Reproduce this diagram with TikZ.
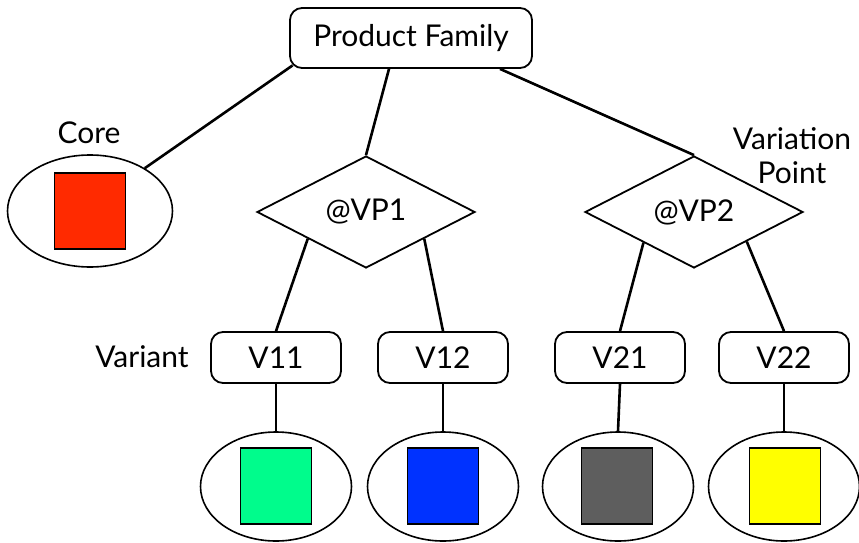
\documentclass[tikz,border=0pt]{standalone}
\usepackage{fontspec}
\setmainfont{Lato}
\usetikzlibrary{shapes.geometric,calc}

\definecolor{coreRed}{RGB}{255,42,0}
\definecolor{partGreen}{RGB}{0,252,140}
\definecolor{partBlue}{RGB}{0,50,255}
\definecolor{partGrey}{RGB}{94,94,94}
\definecolor{partYellow}{RGB}{255,255,0}

\begin{document}
\begin{tikzpicture}[x=1pt,y=-1pt,
  every node/.style={font=\fontsize{30}{35}\selectfont},
  famblock/.style={draw, line width=1.8pt, rounded corners=12pt,
    minimum width=242pt, minimum height=60pt, inner sep=0pt},
  varbox/.style={draw, line width=1.8pt, rounded corners=12pt,
    minimum width=130pt, minimum height=51pt, inner sep=0pt},
  vpoint/.style={draw, diamond, line width=1.8pt,
    minimum width=218pt, minimum height=112pt, inner sep=0pt},
  holder/.style={draw, ellipse, line width=1.6pt,
    minimum width=151pt, minimum height=109pt, inner sep=0pt},
  part/.style={draw, line width=1.6pt,
    minimum width=71pt, minimum height=76pt, inner sep=0pt},
  link/.style={line width=2.6pt},
  caption/.style={inner sep=0pt, align=center}
]
\useasboundingbox (0,0) rectangle (859,543);

% root of the family tree
\node[famblock] (pf) at (411,38) {Product Family};

% core asset
\node[holder, minimum width=165pt, minimum height=112pt] (core) at (90,211) {};
\node[part, fill=coreRed] (coresq) at (90,211) {};
\node[caption, anchor=base] (corelbl) at (89,143) {Core};

% variation points
\node[vpoint] (vp1) at (366,212) {@VP1};
\node[vpoint] (vp2) at (694,212) {@VP2};
\node[caption] (vplbl) at (792,156) {Variation\\[-1pt]Point};

% variants
\node[varbox] (v11) at (276,357.5) {V11};
\node[varbox] (v12) at (443,357.5) {V12};
\node[varbox] (v21) at (620,357.5) {V21};
\node[varbox] (v22) at (784,357.5) {V22};
\node[caption, anchor=base] (varlbl) at (142,367) {Variant};

% realised parts
\node[holder] (e11) at (276,486.5) {};
\node[holder] (e12) at (443,486.5) {};
\node[holder] (e21) at (618,486.5) {};
\node[holder] (e22) at (784,486.5) {};
\node[part, fill=partGreen]  (p11) at (276,486) {};
\node[part, fill=partBlue]   (p12) at (443,486) {};
\node[part, fill=partGrey]   (p21) at (617,486) {};
\node[part, fill=partYellow] (p22) at (785,486) {};

% connectors
\draw[link] (core.38) -- ([shift={(3.5,-3.5)}]pf.south west);
\draw[link] ([xshift=-22pt]pf.south) -- (vp1.north);
\draw[link] ([xshift=89pt]pf.south) -- (vp2.north);

\draw[link] ($(vp1.west)!0.47!(vp1.south)$) -- (v11.north);
\draw[link] ($(vp1.east)!0.47!(vp1.south)$) -- (v12.north);
\draw[link] ($(vp2.west)!0.54!(vp2.south)$) -- (v21.north);
\draw[link] ($(vp2.east)!0.52!(vp2.south)$) -- (v22.north);

\draw[link] (v11.south) -- (e11.north);
\draw[link] (v12.south) -- (e12.north);
\draw[link] (v21.south) -- (e21.north);
\draw[link] (v22.south) -- (e22.north);
\end{tikzpicture}
\end{document}
